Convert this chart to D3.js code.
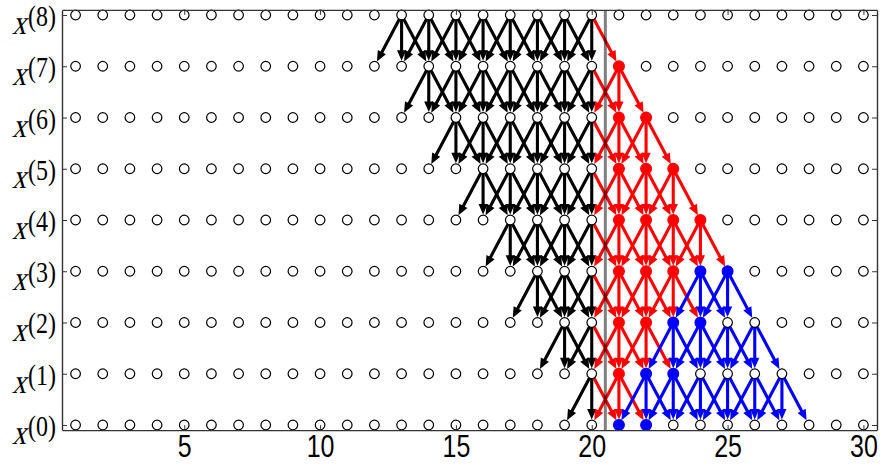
<!DOCTYPE html>
<html>
<head>
<meta charset="utf-8">
<script src="https://cdn.jsdelivr.net/npm/d3@7"></script>
<style>
  html, body { margin: 0; padding: 0; background: #fff; }
  svg { display: block; }
</style>
</head>
<body>
<svg id="chart" width="881" height="466"></svg>
<script>
// Grid of time positions and levels
const positions = [1, 2, 3, 4, 5, 6, 7, 8, 9, 10, 11, 12, 13, 14, 15,
                   16, 17, 18, 19, 20, 21, 22, 23, 24, 25, 26, 27, 28, 29, 30];
const levels = [0, 1, 2, 3, 4, 5, 6, 7, 8];
const levelLabels = ["(0)", "(1)", "(2)", "(3)", "(4)", "(5)", "(6)", "(7)", "(8)"];
const xTicks = [5, 10, 15, 20, 25, 30];
const cutPosition = 20.5;

// First and last source position on each level (index = level), per colour
const blackSpan = [null, [20, 20], [19, 20], [18, 20], [17, 20], [16, 20], [15, 20], [14, 20], [13, 20]];
const redSpan   = [null, [21, 21], [21, 22], [21, 23], [21, 24], [21, 23], [21, 22], [21, 21], null];
const blueSpan  = [null, [22, 27], [23, 26], [24, 25], null, null, null, null, null];

// Filled nodes [position, level]
const redNodes = [[21, 7], [21, 6], [22, 6], [21, 5], [22, 5], [23, 5],
                  [21, 4], [22, 4], [23, 4], [24, 4], [21, 3], [22, 3], [23, 3],
                  [21, 2], [22, 2], [21, 1]];
const blueNodes = [[24, 3], [25, 3], [23, 2], [24, 2], [22, 1], [23, 1], [21, 0], [22, 0]];

(function draw() {
  const svg = d3.select("#chart");
  const plotLeft = 62, plotRight = 877, plotTop = 9.9, plotBottom = 430.1;

  const x = d3.scaleLinear().domain([0.5, 30.5]).range([plotLeft, plotRight]);
  const y = d3.scaleLinear().domain([-0.1, 8.1]).range([plotBottom, plotTop]);

  const colors = { black: "#000000", red: "#ff0000", blue: "#0000ff" };
  const TEXT_STRETCH = 1.22;

  // Build the edge list: each source node feeds the three nodes one level below
  function edgesFrom(span, color, crossColor) {
    const out = [];
    span.forEach((s, k) => {
      if (!s) return;
      for (let p = s[0]; p <= s[1]; p++) {
        [-1, 0, 1].forEach(d => {
          const t = p + d;
          const crosses = (p < cutPosition) !== (t < cutPosition);
          out.push({ p0: p, k0: k, p1: t, k1: k - 1, color: (crossColor && crosses) ? crossColor : color });
        });
      }
    });
    return out;
  }
  const blackEdges = edgesFrom(blackSpan, colors.black, colors.red);
  const redEdges = edgesFrom(redSpan, colors.red, null);
  const blueEdges = edgesFrom(blueSpan, colors.blue, null);
  // edges crossing the cut are drawn with the red layer
  const edges = blackEdges.filter(e => e.color === colors.black)
    .concat(blackEdges.filter(e => e.color !== colors.black))
    .concat(redEdges, blueEdges);

  const gArrows = svg.append("g");
  const R_TARGET = 5.4, HEAD_LEN = 10.5, HEAD_HALF = 4.6;

  edges.forEach(e => {
    const ax = x(e.p0), ay = y(e.k0), bx = x(e.p1), by = y(e.k1);
    const dx = bx - ax, dy = by - ay, L = Math.hypot(dx, dy);
    const ux = dx / L, uy = dy / L;
    const tipX = bx - ux * R_TARGET, tipY = by - uy * R_TARGET;
    const baseX = tipX - ux * HEAD_LEN, baseY = tipY - uy * HEAD_LEN;
    gArrows.append("line")
      .attr("x1", ax).attr("y1", ay)
      .attr("x2", tipX - ux * (HEAD_LEN - 2)).attr("y2", tipY - uy * (HEAD_LEN - 2))
      .attr("stroke", e.color).attr("stroke-width", 3.1);
    const px = -uy, py = ux;
    gArrows.append("path")
      .attr("d", `M${tipX},${tipY}L${baseX + px * HEAD_HALF},${baseY + py * HEAD_HALF}L${baseX - px * HEAD_HALF},${baseY - py * HEAD_HALF}Z`)
      .attr("fill", e.color);
  });

  // Nodes
  const filled = new Map();
  redNodes.forEach(([p, k]) => filled.set(p + "," + k, colors.red));
  blueNodes.forEach(([p, k]) => filled.set(p + "," + k, colors.blue));

  const nodes = [];
  levels.forEach(k => positions.forEach(p => nodes.push({ p, k, fill: filled.get(p + "," + k) })));

  svg.append("g").selectAll("circle").data(nodes).join("circle")
    .attr("cx", d => x(d.p))
    .attr("cy", d => y(d.k))
    .attr("r", d => d.fill ? 5.4 : 4.8)
    .attr("fill", d => d.fill || "#ffffff")
    .attr("stroke", d => d.fill || "#000000")
    .attr("stroke-width", 1.2);

  // Cut line between the two time windows
  svg.append("line")
    .attr("x1", x(cutPosition)).attr("x2", x(cutPosition))
    .attr("y1", plotTop).attr("y2", plotBottom)
    .attr("stroke", "#000").attr("stroke-opacity", 0.5).attr("stroke-width", 3);

  // Axes: ticks point inward on all four sides
  const axisColor = "#333";
  const gx = svg.append("g").attr("transform", `translate(0,${plotBottom})`)
    .call(d3.axisBottom(x).tickValues(xTicks).tickSize(-5).tickSizeOuter(0).tickPadding(4));
  gx.selectAll("text")
    .attr("transform", `scale(1,${TEXT_STRETCH})`)
    .style("font-family", "'Liberation Sans', Arial, Helvetica, sans-serif")
    .style("font-size", "25px").attr("fill", "#000");

  svg.append("g").attr("transform", `translate(0,${plotTop})`)
    .call(d3.axisTop(x).tickValues(xTicks).tickSize(-5).tickSizeOuter(0).tickFormat(""));
  svg.append("g").attr("transform", `translate(${plotLeft},0)`)
    .call(d3.axisLeft(y).tickValues(levels).tickSize(-5).tickSizeOuter(0).tickFormat(""));
  svg.append("g").attr("transform", `translate(${plotRight},0)`)
    .call(d3.axisRight(y).tickValues(levels).tickSize(-5).tickSizeOuter(0).tickFormat(""));

  svg.selectAll(".domain").attr("stroke", axisColor).attr("stroke-width", 1.4);
  svg.selectAll(".tick line").attr("stroke", axisColor).attr("stroke-width", 1);

  // Level labels x^(k): slanted serif x with a parenthesised superscript
  const gLab = svg.append("g");
  levels.forEach(k => {
    const yy = y(k);
    gLab.append("text")
      .attr("transform", `translate(12,${yy + 19}) skewX(-14) scale(1,${TEXT_STRETCH})`)
      .style("font-family", "'Liberation Serif', 'Times New Roman', serif")
      .style("font-size", "28px")
      .text("x");
    gLab.append("text")
      .attr("transform", `translate(28,${yy + 11}) scale(1,${TEXT_STRETCH})`)
      .style("font-family", "'Liberation Serif', 'Times New Roman', serif")
      .style("font-size", "24px")
      .text(levelLabels[k]);
  });
})();
</script>
</body>
</html>
